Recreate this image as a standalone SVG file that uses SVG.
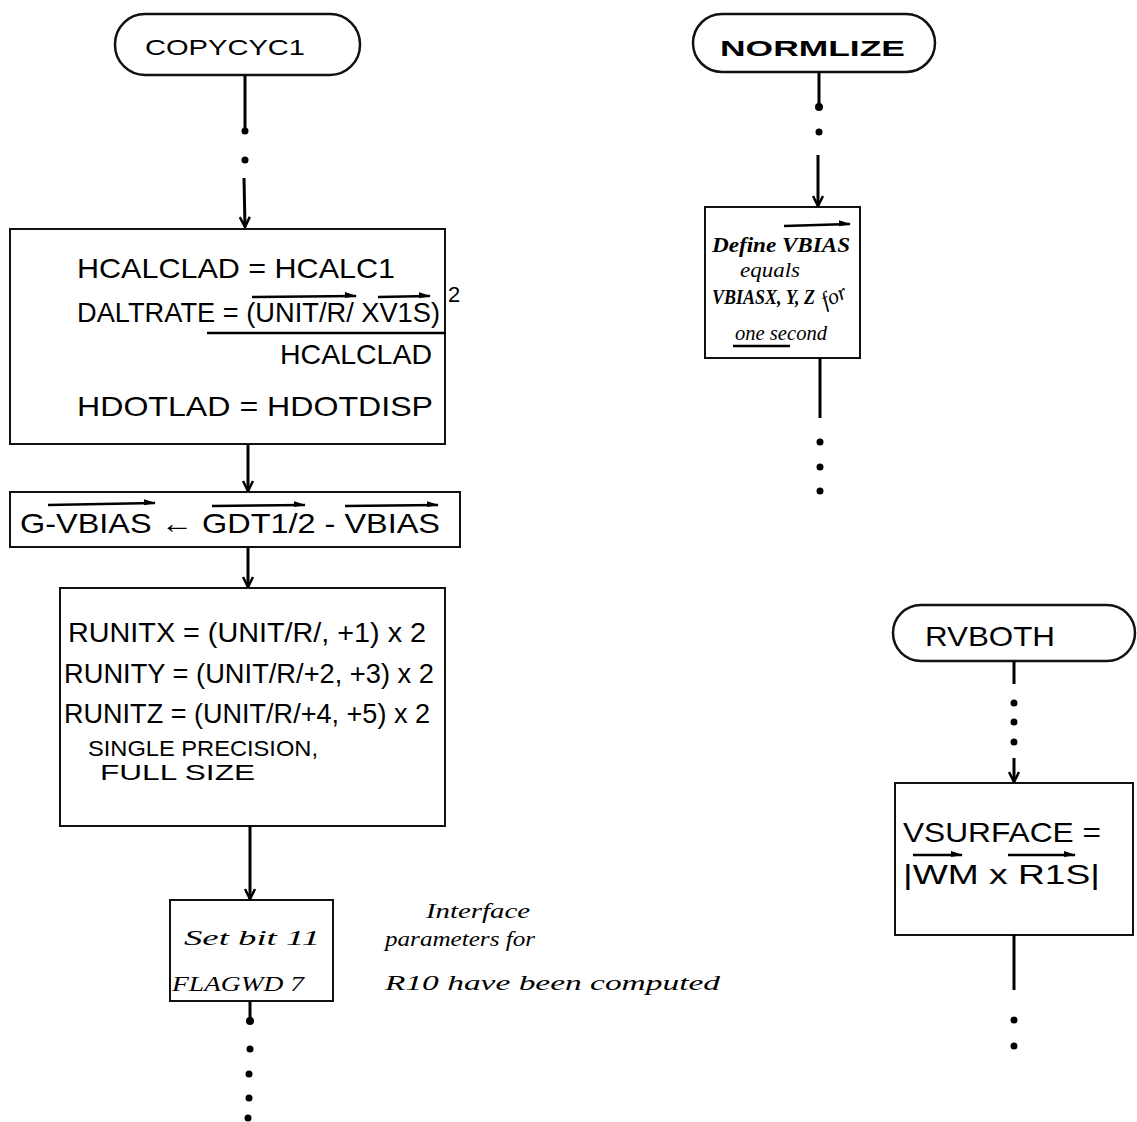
<svg xmlns="http://www.w3.org/2000/svg" width="1137" height="1122" viewBox="0 0 1137 1122">
<defs>
<marker id="ah" viewBox="0 0 12 12" refX="11" refY="6" markerWidth="12" markerHeight="12" markerUnits="userSpaceOnUse" orient="auto">
<path d="M1,1 L11,6 L1,11" fill="none" stroke="#000" stroke-width="2.5"/>
</marker>
<marker id="va" viewBox="0 0 12 8" refX="11" refY="4" markerWidth="12" markerHeight="8" markerUnits="userSpaceOnUse" orient="auto">
<path d="M0,0 L12,4 L0,6 Z" fill="#000"/>
</marker>
</defs>
<style>
.bx{fill:none;stroke:#111;stroke-width:2}
.term{fill:none;stroke:#111;stroke-width:2.5}
.ln{stroke:#000;stroke-width:3;fill:none}
.dot{fill:#000}
.t{font-family:"Liberation Sans",Arial,sans-serif;fill:#000;font-size:28px}
.s{font-family:"Liberation Sans",Arial,sans-serif;fill:#000;font-size:22px}
.h{font-family:"Liberation Serif","Times New Roman",serif;fill:#000;font-size:22px;font-style:italic}
.ov{stroke:#000;stroke-width:2.5;fill:none}
</style>
<rect width="1137" height="1122" fill="#fff"/>

<g id="copycyc1">
<rect class="term" x="115" y="14" width="245" height="61" rx="30" ry="30"/>
<text class="s" x="145" y="55" textLength="160" lengthAdjust="spacingAndGlyphs">COPYCYC1</text>
</g>

<g id="box-hcalc">
<rect class="bx" x="10" y="229" width="435" height="215"/>
<text class="t" x="77" y="278" textLength="318" lengthAdjust="spacingAndGlyphs">HCALCLAD = HCALC1</text>
<text class="t" x="77" y="322" font-size="26" textLength="363" lengthAdjust="spacingAndGlyphs">DALTRATE = (UNIT/R/ XV1S)</text>
<text class="s" x="448" y="302" font-size="20">2</text>
<line class="ov" x1="252" y1="297" x2="356" y2="296" marker-end="url(#va)"/>
<line class="ov" x1="378" y1="297" x2="430" y2="296" marker-end="url(#va)"/>
<line class="ov" x1="207" y1="333" x2="446" y2="333"/>
<text class="t" x="280" y="364" textLength="152" lengthAdjust="spacingAndGlyphs">HCALCLAD</text>
<text class="t" x="77" y="416" textLength="356" lengthAdjust="spacingAndGlyphs">HDOTLAD = HDOTDISP</text>
</g>

<g id="box-gvbias">
<rect class="bx" x="10" y="492" width="450" height="55"/>
<text class="t" x="20" y="533" textLength="420" lengthAdjust="spacingAndGlyphs">G-VBIAS ← GDT1/2 - VBIAS</text>
<line class="ov" x1="48" y1="505" x2="155" y2="503" marker-end="url(#va)"/>
<line class="ov" x1="212" y1="506" x2="305" y2="505" marker-end="url(#va)"/>
<line class="ov" x1="345" y1="506" x2="438" y2="505" marker-end="url(#va)"/>
</g>

<g id="box-runit">
<rect class="bx" x="60" y="588" width="385" height="238"/>
<text class="t" x="68" y="642" textLength="358" lengthAdjust="spacingAndGlyphs">RUNITX = (UNIT/R/, +1) x 2</text>
<text class="t" x="64" y="683" textLength="370" lengthAdjust="spacingAndGlyphs">RUNITY = (UNIT/R/+2, +3) x 2</text>
<text class="t" x="64" y="723" textLength="366" lengthAdjust="spacingAndGlyphs">RUNITZ = (UNIT/R/+4, +5) x 2</text>
<text class="s" x="88" y="756" font-size="19" textLength="230" lengthAdjust="spacingAndGlyphs">SINGLE PRECISION,</text>
<text class="s" x="100" y="780" font-size="19" textLength="155" lengthAdjust="spacingAndGlyphs">FULL SIZE</text>
</g>

<g id="box-setbit">
<rect class="bx" x="170" y="900" width="163" height="101"/>
<text class="h" x="184" y="945" font-size="26" textLength="136" lengthAdjust="spacingAndGlyphs">Set bit 11</text>
<text class="h" x="172" y="991" font-size="24" textLength="132" lengthAdjust="spacingAndGlyphs">FLAGWD 7</text>
</g>

<g id="note-interface">
<text class="h" x="426" y="918" textLength="104" lengthAdjust="spacingAndGlyphs">Interface</text>
<text class="h" x="385" y="946" textLength="150" lengthAdjust="spacingAndGlyphs">parameters  for</text>
<text class="h" x="385" y="990" textLength="335" lengthAdjust="spacingAndGlyphs">R10 have been computed</text>
</g>

<g id="normlize">
<rect class="term" x="693" y="14" width="242" height="58" rx="29" ry="29"/>
<text class="s" x="720" y="56" font-weight="bold" textLength="185" lengthAdjust="spacingAndGlyphs">NORMLIZE</text>
</g>

<g id="box-define">
<rect class="bx" x="705" y="207" width="155" height="151"/>
<text class="h" x="712" y="252" font-size="22" font-weight="bold" textLength="138" lengthAdjust="spacingAndGlyphs">Define VBIAS</text>
<line class="ov" x1="784" y1="226" x2="850" y2="224" marker-end="url(#va)"/>
<text class="h" x="740" y="277" font-size="19" textLength="60" lengthAdjust="spacingAndGlyphs">equals</text>
<text class="h" x="712" y="304" font-size="20" font-weight="bold" textLength="103" lengthAdjust="spacingAndGlyphs">VBIASX, Y, Z</text>
<text class="h" x="822" y="303" font-size="18" transform="rotate(-25 835 298)">for</text>
<text class="h" x="735" y="340" font-size="19" textLength="92" lengthAdjust="spacingAndGlyphs">one second</text>
<line class="ov" x1="733" y1="346" x2="790" y2="346" stroke-width="2"/>
</g>

<g id="rvboth">
<rect class="term" x="893" y="605" width="242" height="56" rx="28" ry="28"/>
<text class="t" x="925" y="646" textLength="130" lengthAdjust="spacingAndGlyphs">RVBOTH</text>
</g>

<g id="box-vsurface">
<rect class="bx" x="895" y="783" width="238" height="152"/>
<text class="t" x="903" y="842" textLength="198" lengthAdjust="spacingAndGlyphs">VSURFACE =</text>
<text class="t" x="903" y="884" textLength="197" lengthAdjust="spacingAndGlyphs">|WM x R1S|</text>
<line class="ov" x1="913" y1="855" x2="962" y2="855" marker-end="url(#va)"/>
<line class="ov" x1="1008" y1="855" x2="1075" y2="855" marker-end="url(#va)"/>
</g>

<g id="connectors">
<line class="ln" x1="245" y1="75" x2="245" y2="130"/>
<circle class="dot" cx="245" cy="131" r="3.5"/>
<circle class="dot" cx="245" cy="160" r="3.5"/>
<line class="ln" x1="244" y1="178" x2="245" y2="227" marker-end="url(#ah)"/>

<line class="ln" x1="248" y1="444" x2="248" y2="491" marker-end="url(#ah)"/>
<line class="ln" x1="248" y1="547" x2="248" y2="587" marker-end="url(#ah)"/>
<line class="ln" x1="250" y1="826" x2="250" y2="899" marker-end="url(#ah)"/>

<line class="ln" x1="250" y1="1001" x2="250" y2="1020"/>
<circle class="dot" cx="250" cy="1021" r="4"/>
<circle class="dot" cx="250" cy="1049" r="3.5"/>
<circle class="dot" cx="249" cy="1074" r="3.5"/>
<circle class="dot" cx="249" cy="1098" r="3.5"/>
<circle class="dot" cx="248" cy="1118" r="3.5"/>

<line class="ln" x1="819" y1="72" x2="819" y2="106"/>
<circle class="dot" cx="819" cy="107" r="4"/>
<circle class="dot" cx="819" cy="132" r="3.5"/>
<line class="ln" x1="818" y1="155" x2="818" y2="206" marker-end="url(#ah)"/>

<line class="ln" x1="820" y1="358" x2="820" y2="418"/>
<circle class="dot" cx="820" cy="442" r="3.5"/>
<circle class="dot" cx="820" cy="467" r="3.5"/>
<circle class="dot" cx="820" cy="491" r="3.5"/>

<line class="ln" x1="1014" y1="661" x2="1014" y2="684"/>
<circle class="dot" cx="1014" cy="703" r="3.5"/>
<circle class="dot" cx="1014" cy="722" r="3.5"/>
<circle class="dot" cx="1014" cy="742" r="3.5"/>
<line class="ln" x1="1014" y1="758" x2="1014" y2="782" marker-end="url(#ah)"/>

<line class="ln" x1="1014" y1="935" x2="1014" y2="990"/>
<circle class="dot" cx="1014" cy="1020" r="3.5"/>
<circle class="dot" cx="1014" cy="1046" r="3.5"/>
</g>
</svg>
